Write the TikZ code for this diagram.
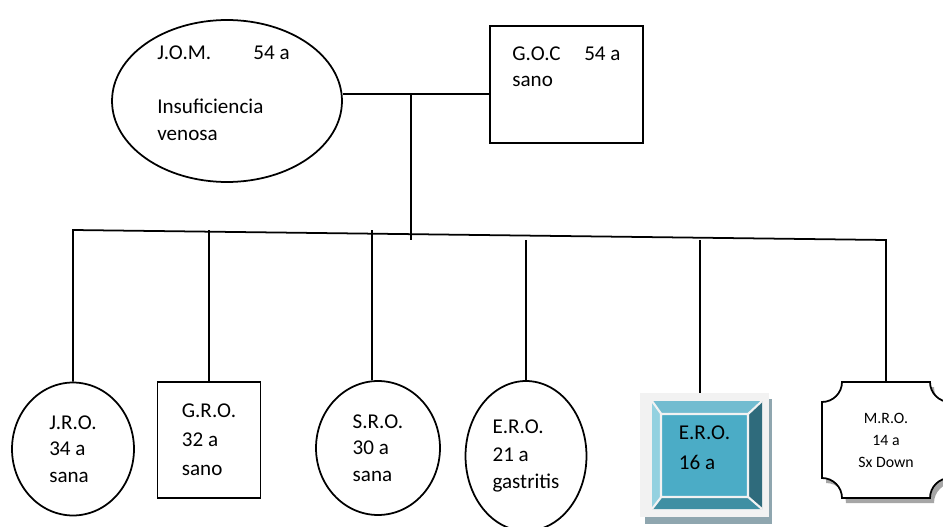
\documentclass[tikz,border=0pt]{standalone}
\usepackage{fontspec}
\setmainfont{Carlito}
\usetikzlibrary{shapes.geometric}
\definecolor{cara}{HTML}{4BACC6}
\definecolor{biselsup}{HTML}{72BCD0}
\definecolor{biselizq}{HTML}{93D1E0}
\definecolor{biselder}{HTML}{2F6B7C}
\definecolor{biselinf}{HTML}{3F8FA3}
\definecolor{marco}{HTML}{F2F2F2}
\definecolor{sombrabisel}{HTML}{8FA6AF}
\definecolor{sombraplaca}{HTML}{A6A6A6}
\tikzset{
  mujer/.style={ellipse, draw, line width=1pt, align=left, inner sep=0pt},
  varon/.style={rectangle, draw, line width=1pt, align=left, inner sep=0pt},
  texto/.style={align=left, inner sep=0pt},
  enlace/.style={line width=1pt},
  placa/.pic={
    \path[pic actions] (-44,-58) -- (44,-58) .. controls (44,-47) and (53,-38) .. (64,-38)
      -- (64,38) .. controls (53,38) and (44,47) .. (44,58)
      -- (-44,58) .. controls (-44,47) and (-53,38) .. (-64,38)
      -- (-64,-38) .. controls (-53,-38) and (-44,-47) .. (-44,-58) -- cycle;
  }
}
\begin{document}
\begin{tikzpicture}[x=0.02cm, y=-0.02cm, font=\fontsize{12}{15}\selectfont]
\useasboundingbox (0,0) rectangle (943,527);

% padres
\node[mujer, minimum width=4.6cm, minimum height=3.24cm] (jom) at (227,101) {};
\node[texto, anchor=base west] (jomtxt) at (157,140)
  {\fontsize{12}{14}\selectfont J.O.M.\hspace{24pt}54 a\\[16pt]Insuficiencia\\venosa};
\node[varon, minimum width=3.06cm, minimum height=2.34cm] (goc) at (566.5,84.5) {};
\node[texto, anchor=base west] (goctxt) at (512,87)
  {\fontsize{12}{17}\selectfont G.O.C\hspace{13.5pt}54 a\\sano};
\coordinate (union) at (411,94);
\coordinate (hijos) at (411,240);
\draw[enlace] (jom.east |- union) -- (goc.west |- union);
\draw[enlace] (union) -- (hijos);

% hijos
\node[mujer, minimum width=2.44cm, minimum height=2.66cm] (jro) at (73,449) {J.R.O.\\34 a\\sana};
\node[varon, minimum width=2.06cm, minimum height=2.32cm, font=\fontsize{12}{16.4}\selectfont] (gro) at (209,440) {G.R.O.\\32 a\\sano};
\node[mujer, minimum width=2.48cm, minimum height=2.68cm] (sro) at (378,448) {S.R.O.\\30 a\\sana};
\node[mujer, minimum width=2.42cm, minimum height=3.0cm, font=\fontsize{12}{15.6}\selectfont] (ero) at (526,456) {E.R.O.\\21 a\\gastritis};

% E.R.O. 16 a (bisel)
\fill[sombrabisel] (645,399) rectangle (772,524);
\fill[marco] (640,393) rectangle (769,517);
\fill[biselsup] (652,401) -- (762,401) -- (747,415) -- (662,415) -- cycle;
\fill[biselizq] (652,401) -- (662,415) -- (662,496) -- (652,509) -- cycle;
\fill[biselder] (762,401) -- (762,509) -- (747,496) -- (747,415) -- cycle;
\fill[biselinf] (652,509) -- (762,509) -- (747,496) -- (662,496) -- cycle;
\fill[cara] (662,415) rectangle (747,496);
\draw[marco, line width=1.2pt] (652,401) -- (662,415) (762,401) -- (747,415)
  (762,509) -- (747,496) (652,509) -- (662,496) (661,414) rectangle (748,497);
\node[texto, minimum width=2.58cm, minimum height=2.2cm, font=\fontsize{12}{17}\selectfont] (ero16) at (704.5,448) {E.R.O.\\16 a};

% M.R.O. (placa)
\pic[fill=sombraplaca] at (890,445) {placa};
\pic[draw, fill=white, line width=1pt] at (886,440) {placa};
\node[align=center, inner sep=0pt, minimum width=2.56cm, minimum height=2.32cm,
  font=\fontsize{9}{12.5}\selectfont] (mro) at (886,440) {M.R.O.\\14 a\\Sx Down};

% linea de hermanos
\coordinate (sibL) at (73,230);
\coordinate (sibR) at (886,240);
\draw[enlace] (jro.north) -- (sibL) -- (sibR) -- (mro.north);
\draw[enlace] (gro.north) -- (gro.north |- sibL);
\draw[enlace] (sro.95) -- (sro.95 |- sibL);
\draw[enlace] (ero.north) -- (ero.north |- sibR);
\draw[enlace] (ero16.95) -- (ero16.95 |- sibR);
\end{tikzpicture}
\end{document}
